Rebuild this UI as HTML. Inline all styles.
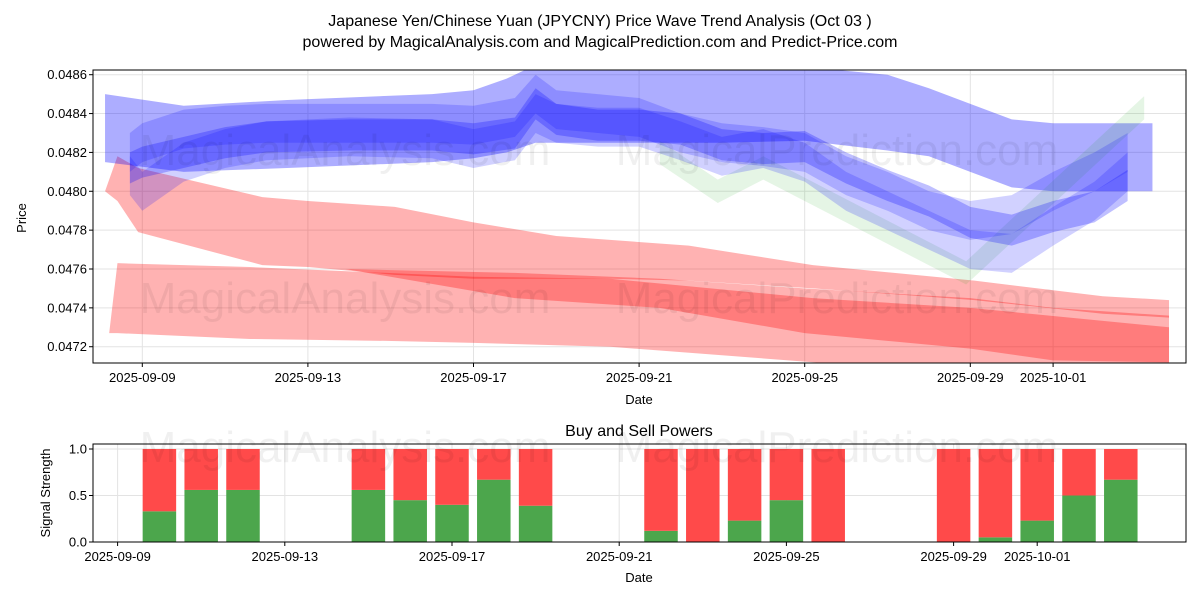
<!DOCTYPE html>
<html><head><meta charset="utf-8"><style>
body{margin:0;background:#fff;}
svg{font-family:"Liberation Sans","DejaVu Sans",sans-serif;}
</style></head><body>
<svg id="c" width="1200" height="600" xmlns="http://www.w3.org/2000/svg">
<rect width="1200" height="600" fill="#fff"/>
<text x="600" y="26" font-size="16" text-anchor="middle">Japanese Yen/Chinese Yuan (JPYCNY) Price Wave Trend Analysis (Oct 03 )</text>
<text x="600" y="47" font-size="16" text-anchor="middle">powered by MagicalAnalysis.com and MagicalPrediction.com and Predict-Price.com</text>
<g id="topg"></g><g id="botg"></g>
</svg>
<script>
const NS='http://www.w3.org/2000/svg';
// ---- data ----
const xTickLabels=['2025-09-09','2025-09-13','2025-09-17','2025-09-21','2025-09-25','2025-09-29','2025-10-01'];
const xTickDays=[0,4,8,12,16,20,22];
const yTickValues=[0.0472,0.0474,0.0476,0.0478,0.0480,0.0482,0.0484,0.0486];
const redADays=[-0.9,-0.6,-0.1,2.9,4,6.1,8,10,11.3,13.2,16.2,20.1,23.2,24.8];
const redAUpper=[0.04800,0.04818,0.04812,0.04797,0.04795,0.04792,0.04784,0.04777,0.04775,0.04772,0.04762,0.04754,0.04746,0.04744];
const redALower=[0.04800,0.04795,0.04779,0.04762,0.04761,0.04757,0.04755,0.04755,0.04755,0.04754,0.04750,0.04744,0.04737,0.04735];
const redBDays=[-0.8,-0.6,2.6,5.9,8,11.3,16.2,20,24.8];
const redBUpper=[0.04727,0.04763,0.04761,0.04758,0.04756,0.04755,0.04745,0.04740,0.04730];
const redBLower=[0.04727,0.04727,0.04724,0.04723,0.04722,0.04720,0.04712,0.04706,0.04700];
const redCDays=[4.9,9,12.5,16,20,22,24.8];
const redCUpper=[0.04760,0.04758,0.04755,0.04750,0.04745,0.04740,0.04736];
const redCLower=[0.04760,0.04745,0.04740,0.04727,0.04719,0.04713,0.04712];
const bigBlueDays=[-0.9,1,3.5,7,8,8.8,9.5,10,12,14,16,18,19,20,21,22,24.4];
const bigBlueUpper=[0.04850,0.04844,0.04847,0.04850,0.04852,0.04858,0.04865,0.04866,0.04866,0.04866,0.04864,0.04860,0.04853,0.04845,0.04837,0.04835,0.04835];
const bigBlueLower=[0.04815,0.04810,0.04812,0.04815,0.04817,0.04820,0.04825,0.04825,0.04825,0.04825,0.04826,0.04821,0.04818,0.04810,0.04802,0.04800,0.04800];
const strandDays=[-0.3,0,1,2,3,5,7,8,9,9.5,10,11,12,13,14,15,16,17,18,19,20,21,22,23,23.8];
const strand1=[0.04812,0.04815,0.04820,0.04825,0.04828,0.04829,0.04829,0.04827,0.04830,0.04845,0.04837,0.04834,0.04834,0.04832,0.04824,0.04822,0.04823,0.04812,0.04803,0.04795,0.04784,0.04780,0.04787,0.04792,0.04803];
const strand2=[0.04808,0.04800,0.04815,0.04822,0.04826,0.04828,0.04827,0.04822,0.04826,0.04840,0.04835,0.04833,0.04833,0.04826,0.04818,0.04822,0.04815,0.04800,0.04790,0.04780,0.04770,0.04768,0.04782,0.04795,0.04810];
const strand3=[0.04820,0.04825,0.04832,0.04834,0.04835,0.04835,0.04835,0.04834,0.04838,0.04850,0.04842,0.04840,0.04838,0.04830,0.04825,0.04823,0.04820,0.04808,0.04800,0.04790,0.04785,0.04788,0.04800,0.04810,0.04820];
const greenDays=[12.5,13.9,15,19.9,24.2];
const greenValues=[0.04820,0.04800,0.04812,0.04758,0.04843];
const barDays=[1,2,3,6,7,8,9,10,13,14,15,16,17,20,21,22,23,24];
const buyValues=[0.33,0.56,0.56,0.56,0.45,0.40,0.67,0.39,0.12,0,0.23,0.45,0,0,0.05,0.23,0.5,0.67];
const sellValues=buyValues.map(v=>1-v);
const botYTicks=[0,0.5,1.0];
// ---- scales ----
const T={l:93,r:1186,t:70,b:363};
const B={l:93,r:1186,t:444,b:542};
const xs=d=>142.3+d*41.4;
const ys=p=>74.7+(0.0486-p)/0.0002*38.86;
const xb=d=>117.6+d*41.8;
const yb=v=>542-v*93;
function el(tag,attrs,parent){const e=document.createElementNS(NS,tag);for(const k in attrs)e.setAttribute(k,attrs[k]);parent.appendChild(e);return e;}
const svg=document.getElementById('c');
const defs=el('defs',{},svg);
const cp=el('clipPath',{id:'cpt'},defs);el('rect',{x:T.l,y:T.t,width:T.r-T.l,height:T.b-T.t},cp);
const gTop=document.getElementById('topg');
xTickDays.forEach(d=>{const g=el('line',{x1:xs(d),x2:xs(d),y1:T.t,y2:T.b,stroke:'#e3e3e3','stroke-width':1},gTop);});
yTickValues.forEach(v=>{const g=el('line',{x1:T.l,x2:T.r,y1:ys(v),y2:ys(v),stroke:'#e3e3e3','stroke-width':1},gTop);});
const plot=el('g',{'clip-path':'url(#cpt)'},gTop);
function band(days,up,lo,fill,op,name){
  let pts=days.map((d,i)=>xs(d)+','+ys(up[i]));
  for(let i=days.length-1;i>=0;i--)pts.push(xs(days[i])+','+ys(lo[i]));
  const p=el('polygon',{points:pts.join(' '),fill:fill,'fill-opacity':op},plot);
  
  
}
function strand(days,vals,hw,fill,op,name){band(days,vals.map(v=>v+hw),vals.map(v=>v-hw),fill,op,name);}
band(redADays,redAUpper,redALower,'#ff0000',0.3,'red-band-upper');
band(redBDays,redBUpper,redBLower,'#ff0000',0.3,'red-band-lower');
band(redCDays,redCUpper,redCLower,'#ff0000',0.3,'red-band-middle');
band(bigBlueDays,bigBlueUpper,bigBlueLower,'#0000ff',0.32,'blue-band-wide');
strand(greenDays,greenValues,0.00006,'#00a000',0.1,'green-band');
strand(strandDays,strand2,0.0001,'#0000ff',0.18,'blue-strand-lower');
strand(strandDays,strand3,0.0001,'#0000ff',0.18,'blue-strand-upper');
strand(strandDays,strand1,0.00008,'#0000ff',0.25,'blue-strand-center');
[['MagicalAnalysis.com',345,165],['MagicalPrediction.com',837,165],['MagicalAnalysis.com',345,313],['MagicalPrediction.com',837,313],['MagicalAnalysis.com',345,462],['MagicalPrediction.com',837,462]].forEach(w=>{
  const t=el('text',{x:w[1],y:w[2],'font-size':44,'text-anchor':'middle',fill:'#000','fill-opacity':0.06},svg);t.textContent=w[0];
  
});
const fr=el('rect',{x:T.l,y:T.t,width:T.r-T.l,height:T.b-T.t,fill:'none',stroke:'#000','stroke-width':1},gTop);

xTickDays.forEach((d,i)=>{el('line',{x1:xs(d),x2:xs(d),y1:T.b,y2:T.b+4,stroke:'#000'},gTop);
  const t=el('text',{x:xs(d),y:T.b+19,'font-size':13,'text-anchor':'middle'},gTop);t.textContent=xTickLabels[i];
  });
yTickValues.forEach(v=>{el('line',{x1:T.l-4,x2:T.l,y1:ys(v),y2:ys(v),stroke:'#000'},gTop);
  const t=el('text',{x:T.l-6,y:ys(v)+4.5,'font-size':13,'text-anchor':'end'},gTop);t.textContent=v.toFixed(4);
  });
let tx=el('text',{x:639,y:404,'font-size':13,'text-anchor':'middle'},gTop);tx.textContent='Date';

tx=el('text',{x:26,y:218,'font-size':13,'text-anchor':'middle',transform:'rotate(-90 26 218)'},gTop);tx.textContent='Price';

const gBot=document.getElementById('botg');
botYTicks.forEach(v=>{const g=el('line',{x1:B.l,x2:B.r,y1:yb(v),y2:yb(v),stroke:'#e3e3e3'},gBot);});
xTickDays.forEach(d=>{const g=el('line',{x1:xb(d),x2:xb(d),y1:B.t,y2:B.b,stroke:'#e3e3e3'},gBot);});
barDays.forEach((d,i)=>{
  const w=33.5,x=xb(d)-w/2;
  const g=el('rect',{x:x,y:yb(buyValues[i]),width:w,height:yb(0)-yb(buyValues[i]),fill:'#4ca64c'},gBot);
  
  const r=el('rect',{x:x,y:yb(buyValues[i]+sellValues[i]),width:w,height:yb(buyValues[i])-yb(buyValues[i]+sellValues[i]),fill:'#ff4a4a'},gBot);
  
});
const fb=el('rect',{x:B.l,y:B.t,width:B.r-B.l,height:B.b-B.t,fill:'none',stroke:'#000'},gBot);

xTickDays.forEach((d,i)=>{el('line',{x1:xb(d),x2:xb(d),y1:B.b,y2:B.b+4,stroke:'#000'},gBot);
  const t=el('text',{x:xb(d),y:B.b+19,'font-size':13,'text-anchor':'middle'},gBot);t.textContent=xTickLabels[i];
  });
botYTicks.forEach(v=>{el('line',{x1:B.l-4,x2:B.l,y1:yb(v),y2:yb(v),stroke:'#000'},gBot);
  const t=el('text',{x:B.l-6,y:yb(v)+4.5,'font-size':13,'text-anchor':'end'},gBot);t.textContent=v.toFixed(1);
  });
tx=el('text',{x:639,y:436,'font-size':16,'text-anchor':'middle'},gBot);tx.textContent='Buy and Sell Powers';

tx=el('text',{x:639,y:582,'font-size':13,'text-anchor':'middle'},gBot);tx.textContent='Date';

tx=el('text',{x:50,y:493,'font-size':13,'text-anchor':'middle',transform:'rotate(-90 50 493)'},gBot);tx.textContent='Signal Strength';

</script>
</body></html>
